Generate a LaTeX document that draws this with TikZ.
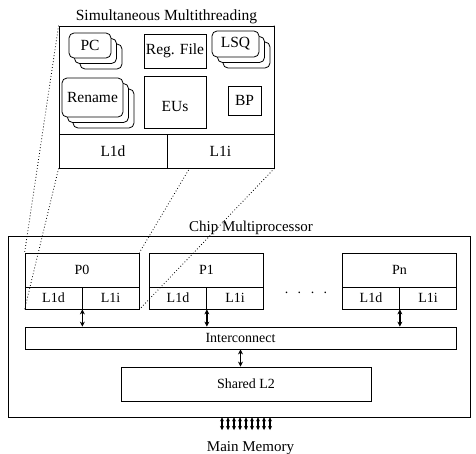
\documentclass[tikz,border=0pt]{standalone}
\usepackage{fontspec}
\setmainfont{Liberation Serif}
\usetikzlibrary{positioning,arrows.meta,backgrounds}

\begin{document}
\begin{tikzpicture}[x=1pt, y=-1pt,
		box/.style={draw, line width=0.8pt, inner sep=0pt, font=\fontsize{14}{16}\selectfont},
		smtbox/.style={box, fill=white, font=\fontsize{15.5}{18}\selectfont},
		stackbox/.style={smtbox, rounded corners=5pt},
		zoomline/.style={line width=0.8pt, dash pattern=on 0.8pt off 2.2pt},
		busarrow/.style={{Stealth[length=5pt,width=5pt]}-{Stealth[length=5pt,width=5pt]}, line width=1.3pt}]
		\useasboundingbox (0,0) rectangle (476,453);

		% SMT core, zoomed in
		\node[smtbox, minimum width=215pt, minimum height=108pt] (smt) at (166.5,80) {};
		\node[smtbox, minimum width=108pt, minimum height=34pt] (smtd) at (113,151) {L1d};
		\node[smtbox, minimum width=107pt, minimum height=34pt] (smti) at (220.5,151) {L1i};
		\node[font=\fontsize{15.5}{18}\selectfont, inner sep=0pt, above=2pt of smt] (smttitle) {Simultaneous Multithreading};

		\foreach \o/\k in {11/2, 5.5/1} {
			\node[stackbox, minimum width=42pt, minimum height=25pt] (pc\k) at ({90+\o},{45.5+\o}) {};
			\node[stackbox, minimum width=47pt, minimum height=26pt] (lsq\k) at ({235.5+\o},{44+\o}) {};
			\node[stackbox, minimum width=61pt, minimum height=39pt] (ren\k) at ({92.5+\o},{97.5+\o}) {};
		}
		\node[stackbox, minimum width=42pt, minimum height=25pt] (pc) at (90,45.5) {PC};
		\node[stackbox, minimum width=47pt, minimum height=26pt] (lsq) at (235.5,44) {LSQ};
		\node[stackbox, minimum width=61pt, minimum height=39pt] (ren) at (92.5,97.5) {Rename};
		\node[smtbox, minimum width=62pt, minimum height=34pt] (rf) at (175,51) {Reg. File};
		\node[smtbox, minimum width=62pt, minimum height=52pt, text height=19pt, text depth=0pt] (eus) at (175,102) {EUs};
		\node[smtbox, minimum width=33pt, minimum height=29pt] (bp) at (244.5,100.5) {BP};

		% chip multiprocessor
		\node[box, minimum width=462pt, minimum height=181pt] (cmp) at (239,326.5) {};
		\node[font=\fontsize{15}{18}\selectfont, inner sep=0pt, above=1pt of cmp, xshift=12pt] (cmptitle) {Chip Multiprocessor};

		\node[box, minimum width=431pt, minimum height=22pt] (ic) at (240.5,338) {Interconnect};
		\node[box, minimum width=250pt, minimum height=34pt] (l2) at (246,384) {Shared L2};

		\foreach \p/\x in {0/82, 1/206.5, n/399.5} {
			\node[box, minimum width=114pt, minimum height=34pt] (p\p) at (\x,270) {P\p};
			\node[box, minimum width=57pt, minimum height=22pt] (p\p d) at ({\x-28.5},298) {L1d};
			\node[box, minimum width=57pt, minimum height=22pt] (p\p i) at ({\x+28.5},298) {L1i};
			\draw[busarrow] (p\p d.south east) -- (p\p d.south east |- ic.north);
		}
		\node[font=\fontsize{14}{16}\selectfont, inner sep=0pt] (dots) at (306,293) {.\hspace{9.5pt}.\hspace{9.5pt}.\hspace{9.5pt}.};

		\draw[busarrow] (ic.south) -- (ic.south |- l2.north);

		% main memory bus
		\node[font=\fontsize{15}{18}\selectfont, inner sep=0pt, anchor=base] (mem) at (250.5,451) {Main Memory};
		\foreach \i in {0,...,8} {
			\coordinate (m\i) at ({222+6*\i},430);
			\draw[{Stealth[length=4pt,width=4pt]}-{Stealth[length=4pt,width=4pt]}, line width=1.1pt] (m\i |- cmp.south) -- (m\i);
		}

		% zoom lines
		\begin{scope}[on background layer]
			\foreach \s/\t in {smt.north west/p0.north west, smtd.south west/p0d.south west, smt.north east/p0.north east, smti.south east/p0i.south east} {
				\draw[zoomline] (\s) -- (\t);
			}
		\end{scope}
	\end{tikzpicture}
\end{document}
